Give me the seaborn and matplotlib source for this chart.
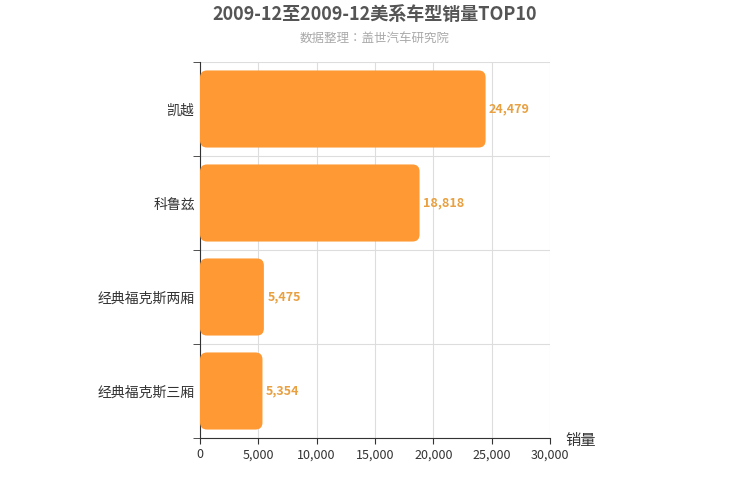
import matplotlib
matplotlib.use('Agg')
import matplotlib.pyplot as plt
import seaborn as sns
import pandas as pd
import glob
from matplotlib import font_manager
from matplotlib.patches import FancyBboxPatch

# make sure the CJK font files are registered
cjk_names = []
for f in glob.glob('/usr/share/fonts/**/*CJK*', recursive=True) + glob.glob('/usr/local/share/fonts/**/*CJK*', recursive=True):
    try:
        font_manager.fontManager.addfont(f)
        cjk_names.append(font_manager.FontProperties(fname=f).get_name())
    except Exception:
        pass
families = ['Noto Sans CJK SC', 'Noto Sans CJK JP'] + cjk_names + ['DejaVu Sans']
plt.rcParams['font.family'] = 'sans-serif'
plt.rcParams['font.sans-serif'] = families

models = ['凯越', '科鲁兹', '经典福克斯两厢', '经典福克斯三厢']
sales = [24479, 18818, 5475, 5354]
xticks = [0, 5000, 10000, 15000, 20000, 25000, 30000]

df = pd.DataFrame({'model': models, 'sales': sales})

fig = plt.figure(figsize=(7.5, 5), dpi=100)
ax = fig.add_axes([200/750, 62/500, 350/750, 376/500])

sns.barplot(data=df, x='sales', y='model', orient='h', color='#FF9933',
            width=0.82, ax=ax, zorder=3)

# swap plain bars for rounded ones
x_per_px = 30000 / 350
y_per_px = 4 / 376
for p in list(ax.patches):
    x0, y0, w, h = p.get_x(), p.get_y(), p.get_width(), p.get_height()
    p.remove()
    ax.add_patch(FancyBboxPatch((x0, y0), w, h,
                                boxstyle=f'round,pad=0,rounding_size={7*x_per_px}',
                                mutation_aspect=y_per_px / x_per_px,
                                fc='#FF9933', ec='none', zorder=3))

for i, v in enumerate(sales):
    ax.text(v + 300, i, f'{v:,}', va='center', ha='left', color='#E8A040',
            fontsize=9, fontweight='bold')

ax.set_xlim(0, 30000)
ax.set_ylim(3.5, -0.5)
ax.set_xticks(xticks)
ax.set_xticklabels([f'{t:,}' for t in xticks], fontsize=9, color='#333333')
ax.set_yticks(range(len(models)))
ax.set_yticklabels(models, fontsize=10, color='#333333')
ax.set_yticks([-0.5, 0.5, 1.5, 2.5, 3.5], minor=True)
ax.tick_params(axis='y', which='major', length=0)
ax.tick_params(axis='y', which='minor', length=5, color='#333333')
ax.tick_params(axis='x', length=4, color='#333333')
ax.grid(axis='x', color='#dddddd', lw=0.8, zorder=0)
ax.grid(axis='y', which='minor', color='#dddddd', lw=0.8, zorder=0)
ax.grid(axis='y', which='major', visible=False)
for s in ['top', 'right']:
    ax.spines[s].set_visible(False)
ax.spines['left'].set_color('#333333')
ax.spines['bottom'].set_color('#333333')
ax.set_xlabel('')
ax.set_ylabel('')

fig.text(565/750, 1 - 440/500, '销量', fontsize=11, color='#333333', ha='left', va='center')
fig.text(0.5, 1 - 14/500, '2009-12至2009-12美系车型销量TOP10', ha='center', va='center',
         fontsize=13, fontweight='bold', color='#555555')
fig.text(0.5, 1 - 38/500, '数据整理：盖世汽车研究院', ha='center', va='center',
         fontsize=9, color='#aaaaaa')

fig.savefig('out.png', dpi=100)
